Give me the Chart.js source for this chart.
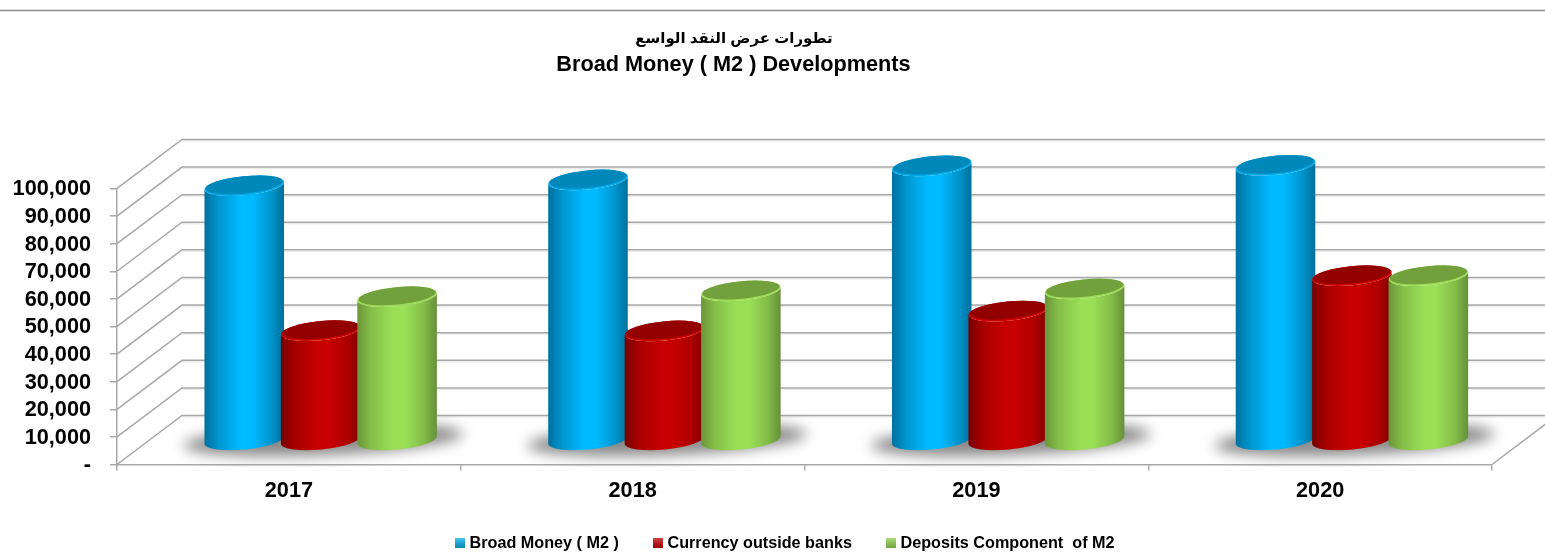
<!DOCTYPE html>
<html>
<head>
<meta charset="utf-8">
<style>html,body{margin:0;padding:0;background:#fff}canvas{display:block}</style>
<script src="https://cdn.jsdelivr.net/npm/chart.js@4/dist/chart.umd.min.js"></script>
</head>
<body>
<div style="width:1545px;height:552px;position:relative"><canvas id="c" width="1545" height="552"></canvas></div>
<script>
const categories = ['2017', '2018', '2019', '2020'];
const broadMoney = [92100, 94200, 99300, 99500];
const currency = [39600, 39500, 46700, 59500];
const deposits = [51900, 54000, 54700, 59500];
const seriesNames = ['Broad Money ( M2 )', 'Currency outside banks', 'Deposits Component  of M2'];
const titleAr = 'تطورات عرض النقد الواسع';
const titleEn = 'Broad Money ( M2 ) Developments';

const FONT = '"Liberation Sans","DejaVu Sans",Arial,sans-serif';
const DEPTH_X = 65, DEPTH_Y = 49;
const GRID = '#a8a8a8';
const BOTTOM_OVERLAP = 15;
const PALETTE = [
  {stops:['#00709f','#0096cf','#00baff','#00baff','#0094cc','#006f9c'], top:'#0088bb', rim:'#00a9e6', legend:'#00aee8'},
  {stops:['#760000','#a80000','#c60000','#c80000','#ad0000','#7f0000'], top:'#930000', rim:'#cf0000', legend:'#c00000'},
  {stops:['#6a9638','#86bf49','#9adf56','#9adf56','#84bb48','#66903a'], top:'#72a03c', rim:'#9adb54', legend:'#8fce4e'}
];

function drawCylinder(ctx, el, pal) {
  const a = el.width / 2, b = 9.6, t = 5.7 * Math.PI / 180;
  const cx = el.x + DEPTH_X / 2 - 0.7;
  const topY = el.y - DEPTH_Y / 2, baseY = el.base - DEPTH_Y / 2 + 0.7;
  const dx = a * Math.cos(t), dy = a * Math.sin(t);
  const g = ctx.createLinearGradient(cx - dx, 0, cx + dx, 0);
  [0, .18, .45, .6, .84, 1].forEach((p, i) => g.addColorStop(p, pal.stops[i]));
  ctx.beginPath();
  ctx.moveTo(cx - dx, topY + dy);
  ctx.ellipse(cx, baseY, a, b, -t, Math.PI, 0, true);
  ctx.lineTo(cx + dx, topY - dy);
  ctx.ellipse(cx, topY, a, b, -t, 0, Math.PI, false);
  ctx.closePath();
  ctx.fillStyle = g;
  ctx.fill();
  ctx.beginPath();
  ctx.ellipse(cx, topY, a, b, -t, 0, Math.PI * 2);
  ctx.fillStyle = pal.rim;
  ctx.fill();
  ctx.beginPath();
  ctx.ellipse(cx, topY - 0.9, a - 1.2, b - 0.9, -t, 0, Math.PI * 2);
  ctx.fillStyle = pal.top;
  ctx.fill();
}

class CylinderController extends Chart.BarController {
  draw() {
    // the library walks datasets last-to-first; the first series must be painted first
    const chart = this.chart, ctx = chart.ctx;
    if (this.index !== chart.data.datasets.length - 1) return;
    chart.data.datasets.forEach((d, i) => {
      chart.getDatasetMeta(i).data.forEach(el => { ctx.save(); drawCylinder(ctx, el, PALETTE[i]); ctx.restore(); });
    });
  }
}
CylinderController.id = 'cylinder';
CylinderController.defaults = Chart.BarController.defaults;
CylinderController.overrides = Chart.BarController.overrides;
Chart.register(CylinderController);

function swatch(color) {
  const c = document.createElement('canvas');
  c.width = 10; c.height = 10;
  const x = c.getContext('2d');
  x.fillStyle = color; x.fillRect(0, 0, 10, 10);
  const h = x.createLinearGradient(0, 0, 0, 10);
  h.addColorStop(0, 'rgba(255,255,255,.25)'); h.addColorStop(1, 'rgba(0,0,0,.22)');
  x.fillStyle = h; x.fillRect(0, 0, 10, 10);
  return c;
}

const scene = {
  id: 'scene',
  afterLayout(chart) {
    const t = chart.titleBlock, s = chart.boxes.find(b => b !== t && b.options && b.options.text === titleEn);
    t.left = 434; t.right = 1034; t.top = 39 - t.options.font.size * 0.6;
    s.left = 434; s.right = 1033; s.top = 65 - s.options.font.size * 0.6;
    const l = chart.legend;
    l.left = 187; l.right = 1387; l.top = 496.85; l.bottom = 552; l.width = 1200;
    const xs = chart.scales.x;
    xs.bottom = 512; xs.height = xs.bottom - xs.top;
  },
  beforeDraw(chart) {
    const c = chart.ctx;
    c.save();
    c.fillStyle = '#fff'; c.fillRect(0, 0, chart.width, chart.height);
    c.strokeStyle = '#8c8c8c'; c.lineWidth = 1.5;
    c.beginPath(); c.moveTo(0, 10.5); c.lineTo(chart.width, 10.5); c.stroke();
    c.restore();
  },
  beforeDatasetsDraw(chart) {
    const c = chart.ctx, x = chart.scales.x, y = chart.scales.y;
    c.save();
    c.lineWidth = 1.5;
    y.ticks.forEach(tk => {
      const p = y.getPixelForValue(tk.value);
      c.strokeStyle = '#ececec';
      c.beginPath(); c.moveTo(x.left + DEPTH_X, p - DEPTH_Y + 1.4); c.lineTo(x.right + DEPTH_X, p - DEPTH_Y + 1.4); c.stroke();
      c.strokeStyle = GRID;
      c.beginPath();
      c.moveTo(x.left, p); c.lineTo(x.left + DEPTH_X, p - DEPTH_Y); c.lineTo(x.right + DEPTH_X, p - DEPTH_Y);
      c.stroke();
    });
    const p0 = y.getPixelForValue(0);
    c.beginPath(); c.moveTo(x.right, p0); c.lineTo(x.right + DEPTH_X, p0 - DEPTH_Y); c.stroke();
    // floor shadow under every cluster
    const m = chart.getDatasetMeta(1);
    m.data.forEach(el => {
      c.save();
      c.filter = 'blur(7px)';
      c.fillStyle = '#8a8a8a';
      c.beginPath();
      c.ellipse(el.x + DEPTH_X / 2 + 2, el.base - DEPTH_Y / 2 + 0.5, 140, 15.5, -2.4 * Math.PI / 180, 0, Math.PI * 2);
      c.fill();
      c.restore();
    });
    c.restore();
  }
};

new Chart(document.getElementById('c'), {
  type: 'cylinder',
  data: {
    labels: categories,
    datasets: [
      {label: seriesNames[0], data: broadMoney, backgroundColor: PALETTE[0].legend, clip: false},
      {label: seriesNames[1], data: currency, backgroundColor: PALETTE[1].legend, clip: false},
      {label: seriesNames[2], data: deposits, backgroundColor: PALETTE[2].legend, clip: false}
    ]
  },
  plugins: [scene],
  options: {
    responsive: false,
    animation: false,
    events: [],
    layout: {padding: {left: 0, right: 53, top: 0, bottom: -BOTTOM_OVERLAP}},
    categoryPercentage: 0.667,
    barPercentage: 1.046,
    plugins: {
      tooltip: {enabled: false},
      title: {
        display: true, text: titleAr, color: '#000', padding: 0,
        font: {family: FONT, size: 15, weight: 'bold', lineHeight: 1.2}
      },
      subtitle: {
        display: true, text: titleEn, color: '#000',
        padding: {top: 0, bottom: 144.4},
        font: {family: FONT, size: 21.7, weight: 'bold', lineHeight: 1.2}
      },
      legend: {
        display: true, position: 'bottom',
        labels: {
          color: '#000', boxWidth: 2, boxHeight: 10, padding: 38.5, usePointStyle: true,
          font: {family: FONT, size: 16.2, weight: 'bold', lineHeight: 1.2},
          generateLabels(chart) {
            return chart.data.datasets.map((d, i) => ({
              text: d.label, datasetIndex: i, fontColor: '#000', lineWidth: 0,
              pointStyle: swatch(PALETTE[i].legend), hidden: false
            }));
          }
        }
      }
    },
    scales: {
      x: {
        type: 'category', offset: true,
        afterFit(s) { s.height = 87.5 + BOTTOM_OVERLAP - s.chart.legend.height; },
        grid: {display: true, offset: true, drawOnChartArea: false, drawTicks: true, tickLength: 6, tickColor: GRID, lineWidth: 1.5},
        border: {display: true, color: GRID, width: 1.5},
        ticks: {color: '#000', padding: 8, font: {family: FONT, size: 21.7, weight: 'bold'}, maxRotation: 0}
      },
      y: {
        type: 'linear', min: 0, max: 100000,
        afterFit(s) { s.width = 117; },
        grid: {display: true, drawOnChartArea: false, drawTicks: true, tickLength: 7, tickColor: GRID, lineWidth: 1.5},
        border: {display: true, color: GRID, width: 1.5},
        ticks: {
          stepSize: 10000, autoSkip: false, color: '#000', padding: 19, labelOffset: 1,
          font: {family: FONT, size: 21.7, weight: 'bold'},
          callback: v => v === 0 ? '-' : v.toLocaleString('en-US')
        }
      }
    }
  }
});
</script>
</body>
</html>
